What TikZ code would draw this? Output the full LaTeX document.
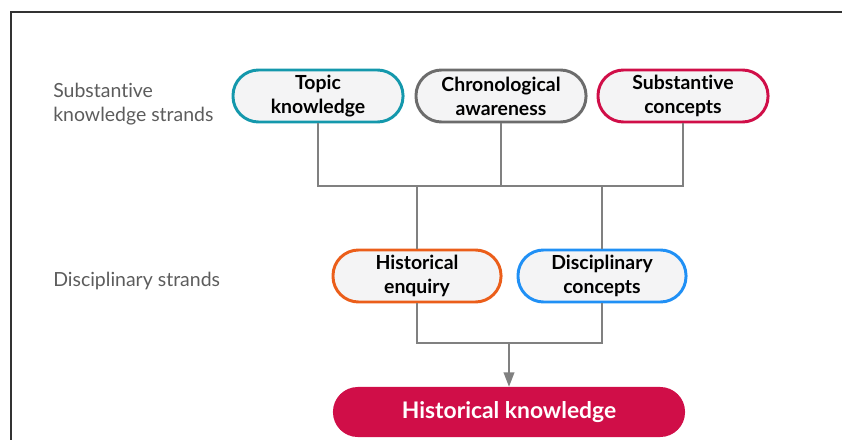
\documentclass[tikz,border=0pt]{standalone}
\usepackage{fontspec}
\setmainfont{Lato}[Ligatures=NoCommon]
\definecolor{tealline}{RGB}{20,152,172}
\definecolor{greyline}{RGB}{108,108,108}
\definecolor{crimson}{RGB}{208,14,72}
\definecolor{orangeline}{RGB}{235,94,26}
\definecolor{blueline}{RGB}{32,144,245}
\definecolor{pillfill}{RGB}{244,244,245}
\definecolor{labelgray}{RGB}{92,92,92}
\definecolor{linkgray}{RGB}{128,128,128}
\definecolor{framegray}{RGB}{50,50,50}
\usetikzlibrary{arrows.meta,positioning,calc}

\begin{document}
\begin{tikzpicture}[x=0.025cm,y=-0.025cm,
      strand/.style={draw,line width=2.1pt,fill=pillfill,rounded corners=0.64cm,
                     minimum width=4.25cm,minimum height=1.3cm,inner sep=0pt,
                     font=\fontsize{13.8}{17.2}\selectfont\bfseries,text=black,align=center},
      rowlabel/.style={anchor=west,inner sep=0pt,font=\fontsize{13.85}{17.2}\selectfont,text=labelgray,align=left},
      link/.style={draw=linkgray,line width=1pt},
      arr/.style={link,-{Triangle[length=3.6mm,width=2.7mm]}}
    ]
      \useasboundingbox (0,0) rectangle (842,440);
      % frame of the screenshot
      \draw[framegray,line width=1.8pt] (11,446) -- (11,12) -- (846,12);
      % row labels
      \node[rowlabel] (sublabel) at (53,104) {Substantive\\knowledge strands};
      \node[rowlabel] (dislabel) at (53,281) {Disciplinary strands};
      % substantive strands
      \node[strand,draw=tealline]   (topic)  at (318,96) {Topic\\knowledge};
      \node[strand,draw=greyline]   (chrono) at (501,96) {Chronological\\awareness};
      \node[strand,draw=crimson]    (subcon) at (683,96) {Substantive\\concepts};
      % disciplinary strands
      \node[strand,draw=orangeline,minimum width=4.2cm] (enquiry) at (417,276) {Historical\\enquiry};
      \node[strand,draw=blueline,minimum width=4.2cm]   (discon)  at (602,276) {Disciplinary\\concepts};
      % outcome
      \node[draw=none,fill=crimson,rounded corners=0.62cm,minimum width=8.8cm,minimum height=1.25cm,
            font=\fontsize{16.25}{19}\selectfont\bfseries,text=white] (histknow) at (509,412) {Historical knowledge};
      % connectors
      \coordinate (bus) at (501,186);
      \coordinate (merge) at (509,343);
      \draw[link] (topic.south) |- (bus) -| (subcon.south);
      \draw[link] (chrono.south) -- (bus);
      \draw[link] (bus -| enquiry) -- (enquiry.north);
      \draw[link] (bus -| discon) -- (discon.north);
      \draw[link] (enquiry.south) |- (merge) -| (discon.south);
      \draw[arr] (merge) -- (histknow.north);
    \end{tikzpicture}
\end{document}
